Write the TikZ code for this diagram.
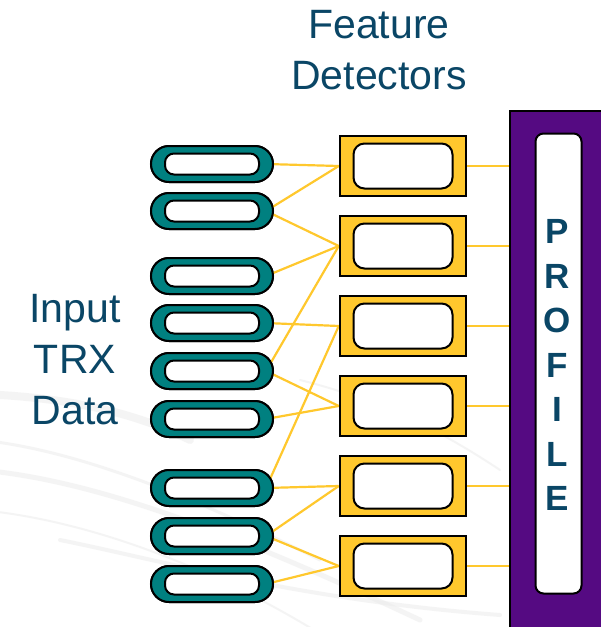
\documentclass[tikz,border=0pt]{standalone}
\usepackage{fontspec}
\setmainfont{Liberation Sans}
\definecolor{trxteal}{RGB}{0,128,128}
\definecolor{detyellow}{RGB}{255,200,45}
\definecolor{profpurple}{RGB}{85,10,130}
\definecolor{labelblue}{RGB}{10,70,102}
\definecolor{swoosh}{RGB}{236,236,236}
\begin{document}
\begin{tikzpicture}[x=1pt,y=-1pt,
  pill/.style={draw=black, line width=2pt, fill=trxteal, rounded corners=18pt,
    minimum width=122pt, minimum height=36pt, inner sep=0pt},
  pillcore/.style={draw=black, line width=2pt, fill=white, rounded corners=9pt,
    minimum width=94pt, minimum height=21pt, inner sep=0pt},
  detbox/.style={draw=black, line width=2.5pt, fill=detyellow,
    minimum width=126pt, minimum height=60pt, inner sep=0pt},
  detcore/.style={draw=black, line width=2pt, fill=white, rounded corners=11pt,
    minimum width=99pt, minimum height=45pt, inner sep=0pt},
  profbar/.style={draw=black, line width=2pt, fill=profpurple,
    minimum width=130pt, minimum height=540pt, inner sep=0pt},
  profcore/.style={draw=black, line width=2pt, fill=white, rounded corners=8pt,
    minimum width=46pt, minimum height=460pt, inner sep=0pt},
  wire/.style={draw=detyellow, line width=2.2pt},
  caption/.style={text=labelblue, font=\fontsize{41}{51}\selectfont,
    align=center, inner sep=0pt},
  profletter/.style={text=labelblue, font=\bfseries\fontsize{35}{35}\selectfont,
    inner sep=0pt},
  backswoosh/.style={draw=swoosh, line cap=round, opacity=0.55}
]
\useasboundingbox (0,0) rectangle (601,627);
\clip (0,0) rectangle (601,627);
\fill[white] (0,0) rectangle (601,627);

% faint background streaks
\draw[backswoosh, line width=8pt] (-20,394) .. controls (60,397) and (130,410) .. (190,440);
\draw[backswoosh, line width=3pt] (-20,440) .. controls (80,450) and (200,500) .. (320,560);
\draw[backswoosh, line width=5pt] (-20,470) .. controls (100,480) and (250,540) .. (420,620);
\draw[backswoosh, line width=2pt] (-20,510) .. controls (90,520) and (220,570) .. (330,640);
\draw[backswoosh, line width=4pt] (60,540) .. controls (160,560) and (300,600) .. (500,615);
\draw[backswoosh, line width=2pt] (300,380) .. controls (380,400) and (440,430) .. (500,470);

% input records
\foreach \yy [count=\i] in {164,211,276,323,371,419,488,536,584}{
  \node[pill] (i\i) at (212,\yy) {};
}

% feature detectors and the profile bar
\foreach \yy [count=\i] in {166,246,326,406,486,566}{
  \node[detbox] (f\i) at (403,\yy) {};
}
\node[profbar] (bar) at (575,381) {};

% connectors
\foreach \a/\b in {1/1,2/1,2/2,3/2,5/2,4/3,7/3,5/4,6/4,7/5,8/5,8/6,9/6}{
  \draw[wire] ([xshift=-8pt]i\a.east) -- (f\b.west);
}
\foreach \i in {1,...,6}{
  \draw[wire] (f\i.east) -- (f\i.east -| bar.west);
}

% shapes redrawn on top of the connectors
\foreach \i in {1,...,9}{
  \node[pill] at (i\i) {};
  \node[pillcore] (ic\i) at (i\i) {};
}
\foreach \i in {1,...,6}{
  \node[detbox] at (f\i) {};
  \node[detcore] (fc\i) at (f\i) {};
}
\node[profcore] (barcore) at (558.5,363.5) {};
\foreach \ch [count=\i] in {P,R,O,F,I,L,E}{
  \node[profletter, anchor=base] (pl\i) at (557,{243.5+44.5*(\i-1)}) {\ch};
}

% labels
\node[caption, anchor=north] (feat) at (379,9.6) {Feature\\Detectors};
\node[caption, anchor=north] (inp) at (75,293.6) {Input\\TRX\\Data};
\end{tikzpicture}
\end{document}
